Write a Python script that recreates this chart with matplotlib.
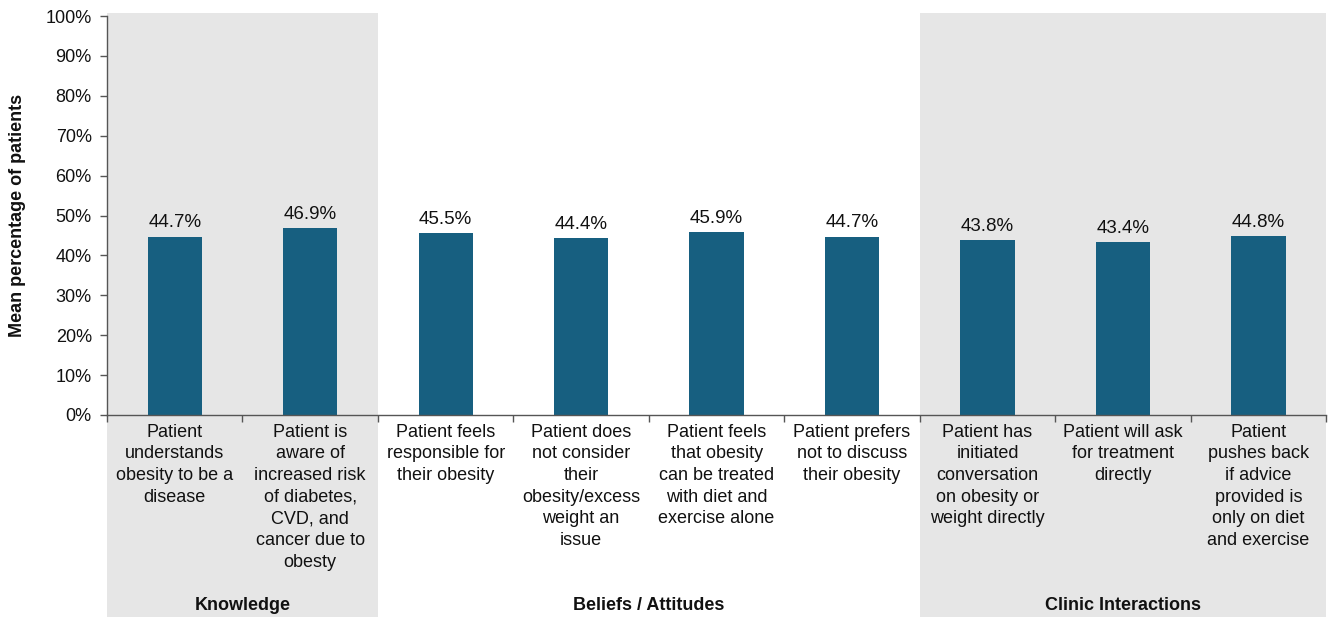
import numpy as np
import matplotlib.pyplot as plt
import matplotlib.transforms as mtransforms
from matplotlib.patches import Rectangle

plt.rcParams['font.family'] = ['Liberation Sans', 'DejaVu Sans']

categories = [
    'Patient\nunderstands\nobesity to be a\ndisease',
    'Patient is\naware of\nincreased risk\nof diabetes,\nCVD, and\ncancer due to\nobesty',
    'Patient feels\nresponsible for\ntheir obesity',
    'Patient does\nnot consider\ntheir\nobesity/excess\nweight an\nissue',
    'Patient feels\nthat obesity\ncan be treated\nwith diet and\nexercise alone',
    'Patient prefers\nnot to discuss\ntheir obesity',
    'Patient has\ninitiated\nconversation\non obesity or\nweight directly',
    'Patient will ask\nfor treatment\ndirectly',
    'Patient\npushes back\nif advice\nprovided is\nonly on diet\nand exercise',
]
values = [44.7, 46.9, 45.5, 44.4, 45.9, 44.7, 43.8, 43.4, 44.8]
groups = ['Knowledge', 'Beliefs / Attitudes', 'Clinic Interactions']
group_sizes = [2, 4, 3]
group_shaded = [True, False, True]

bar_color = '#175f80'
shade_color = '#e6e6e6'
text_color = '#111111'

fig = plt.figure(figsize=(13.28, 6.17), dpi=100)
ax = fig.add_axes([0.0806, 0.3274, 0.918, 0.6466])

x = np.arange(len(values))
ax.set_xlim(-0.5, len(values) - 0.5)
ax.set_ylim(0, 100)

# shaded group backgrounds, running down past the axis to the figure bottom
trans = mtransforms.blended_transform_factory(ax.transData, ax.transAxes)
start = 0
for name, size, shaded in zip(groups, group_sizes, group_shaded):
    left = start - 0.5
    if shaded:
        ax.add_patch(Rectangle((left, -0.6), size, 1.608, transform=trans,
                               facecolor=shade_color, edgecolor='none',
                               clip_on=False, zorder=0))
    ax.text(left + size / 2, -0.477, name, transform=trans, ha='center',
            va='center', fontsize=13, fontweight='bold', color=text_color)
    start += size

ax.bar(x, values, width=0.4, color=bar_color, zorder=2)
for xi, v in zip(x, values):
    ax.text(xi, v + 1.3, f'{v:.1f}%', ha='center', va='bottom',
            fontsize=13.5, color=text_color, zorder=3)

# category labels under the axis
for xi, label in zip(x, categories):
    ax.text(xi, -0.022, label, transform=trans, ha='center', va='top',
            fontsize=13, color=text_color, linespacing=1.36)

ax.set_xticks(np.arange(len(values) + 1) - 0.5)
ax.set_xticklabels([])
ax.set_yticks(np.arange(0, 101, 10))
ax.set_yticklabels([f'{t}%' for t in range(0, 101, 10)], fontsize=13,
                   color=text_color)
ax.tick_params(axis='x', length=5, width=1, color='#555555', direction='out')
ax.tick_params(axis='y', length=5, width=1, color='#555555', direction='out',
               pad=6)

for side in ['top', 'right']:
    ax.spines[side].set_visible(False)
for side in ['left', 'bottom']:
    ax.spines[side].set_color('#555555')
    ax.spines[side].set_linewidth(1)
    ax.spines[side].set_zorder(4)

ax.set_ylabel('Mean percentage of patients', fontsize=13,
              fontweight='bold', color=text_color, labelpad=14)
ax.set_facecolor('none')

fig.savefig('out.png', dpi=100)
